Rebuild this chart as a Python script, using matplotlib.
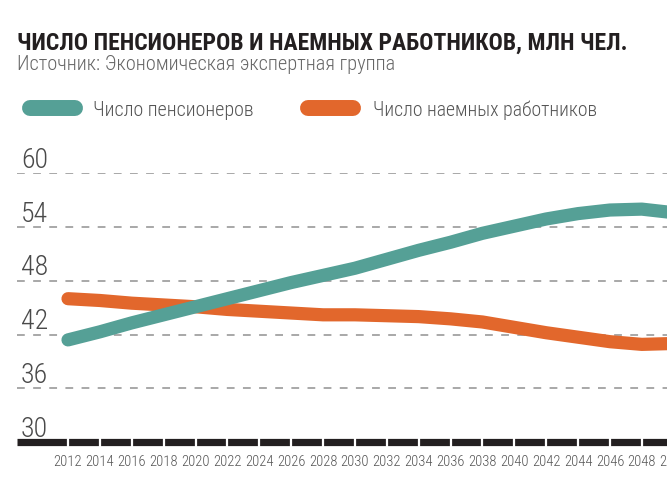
import matplotlib
matplotlib.use("Agg")
import matplotlib.pyplot as plt
from matplotlib import font_manager as fm
from matplotlib.ft2font import FT2Font
import matplotlib.transforms as mtransforms

# ---- data ----
years = [2012, 2014, 2016, 2018, 2020, 2022, 2024, 2026, 2028, 2030,
         2032, 2034, 2036, 2038, 2040, 2042, 2044, 2046, 2048, 2050]
pensioners = [41.4, 42.3, 43.3, 44.2, 45.1, 46.0, 46.9, 47.8, 48.6, 49.4,
              50.4, 51.4, 52.3, 53.3, 54.1, 54.9, 55.5, 55.9, 56.0, 55.6]
workers = [46.0, 45.8, 45.5, 45.3, 45.1, 44.8, 44.6, 44.4, 44.2, 44.2,
           44.1, 44.0, 43.75, 43.4, 42.8, 42.2, 41.7, 41.2, 40.9, 41.0]
y_ticks = [30, 36, 42, 48, 54, 60]
x_tick_labels = [str(y) for y in years]
series_names = ["Число пенсионеров", "Число наемных работников"]
title = "ЧИСЛО ПЕНСИОНЕРОВ И НАЕМНЫХ РАБОТНИКОВ, МЛН ЧЕЛ."
subtitle = "Источник: Экономическая экспертная группа"

TEAL = "#55A096"
ORANGE = "#E2672C"

PREF = ["Roboto Condensed", "PT Sans Narrow", "Fira Sans Condensed",
        "IBM Plex Sans Condensed", "Open Sans Condensed", "Liberation Sans Narrow"]


def _w(f):
    w = f.weight
    if isinstance(w, str):
        w = {"normal": 400, "regular": 400, "bold": 700, "light": 300}.get(w.lower(), 400)
    return w


def find_font(weight, fallback_weight="normal"):
    for n in PREF:
        fs = [f for f in fm.fontManager.ttflist if f.name == n and f.style == "normal"]
        fs.sort(key=lambda f: (abs(_w(f) - weight) + (50 if "[" in f.fname else 0)))
        for f in fs:
            try:
                ft = FT2Font(f.fname)
                if ord("Ч") in ft.get_charmap():
                    return fm.FontProperties(fname=f.fname)
            except Exception:
                pass
    return fm.FontProperties(family="DejaVu Sans", weight=fallback_weight)


F_BOLD = find_font(700, "bold")
F_REG = find_font(400)
F_LIGHT = find_font(300)

W, H = 667, 496
fig = plt.figure(figsize=(W / 100, H / 100), dpi=100)


def fx(px):
    return px / W


def fy(py):
    return 1 - py / H


ax = fig.add_axes([fx(17), fy(442), 1 - fx(17), fy(173.3) - fy(442)])
ax.set_ylim(30, 60)
ax.set_xlim(2008.8, 2049.58)
for s in ax.spines.values():
    s.set_visible(False)
ax.set_yticks([])

# gridlines
for v in y_ticks[1:]:
    ax.axhline(v, color="#a8a8a8", lw=1.4, dashes=(4, 4.3), zorder=1)

trans = mtransforms.blended_transform_factory(fig.transFigure, ax.transData)
ylabels = []
for v in y_ticks:
    t = ax.text(fx(21), v + 0.6, str(v), transform=trans, ha="left", va="baseline",
                fontproperties=F_LIGHT, fontsize=19, color="#4a4a4a")
    ylabels.append(t)

# bottom bar
ax.plot([2008.8, 2049.58], [30, 30], color="#231f20", lw=5.2,
        solid_capstyle="butt", clip_on=False, zorder=3)
ax.vlines(years, 29.45, 30.55, color="white", lw=1.6, clip_on=False, zorder=4)

# series
ax.plot(years, workers, color=ORANGE, lw=9.5, solid_capstyle="round",
        solid_joinstyle="round", zorder=5)
ax.plot(years, pensioners, color=TEAL, lw=9.5, solid_capstyle="round",
        solid_joinstyle="round", zorder=6)

# x tick labels
xtrans = mtransforms.blended_transform_factory(ax.transData, fig.transFigure)
xlabels = []
for yr, lab in zip(years, x_tick_labels):
    t = ax.text(yr, fy(466), lab, transform=xtrans, ha="center", va="baseline",
                fontproperties=F_LIGHT, fontsize=10.5, color="#555555", clip_on=False)
    xlabels.append(t)
ax.set_xticks([])

# title & subtitle
t_title = fig.text(fx(17), fy(50), title, ha="left", va="baseline",
                   fontproperties=F_BOLD, fontsize=15.5, color="#231f20")
t_sub = fig.text(fx(17), fy(70), subtitle, ha="left", va="baseline",
                 fontproperties=F_LIGHT, fontsize=11.5, color="#666666")

# legend
leg_y = fy(108)
fig.add_artist(plt.Line2D([fx(30), fx(75)], [leg_y, leg_y], color=TEAL, lw=11.5,
                          solid_capstyle="round", transform=fig.transFigure))
t_l1 = fig.text(fx(93), fy(116), series_names[0], ha="left", va="baseline",
                fontproperties=F_LIGHT, fontsize=12, color="#555555")
fig.add_artist(plt.Line2D([fx(308), fx(353)], [leg_y, leg_y], color=ORANGE, lw=11.5,
                          solid_capstyle="round", transform=fig.transFigure))
t_l2 = fig.text(fx(373), fy(116), series_names[1], ha="left", va="baseline",
                fontproperties=F_LIGHT, fontsize=12, color="#555555")

# fit text widths to the reference layout
fig.canvas.draw()
r = fig.canvas.get_renderer()


def fit(t, target):
    w = t.get_window_extent(r).width
    if w > 0:
        t.set_fontsize(t.get_fontsize() * target / w)


fit(t_title, 612)
fit(t_sub, 381)
fit(t_l1, 160)
fit(t_l2, 224)
fit(ylabels[-1], 27)
for t in ylabels[:-1]:
    t.set_fontsize(ylabels[-1].get_fontsize())

fig.savefig("out.png", dpi=100)
